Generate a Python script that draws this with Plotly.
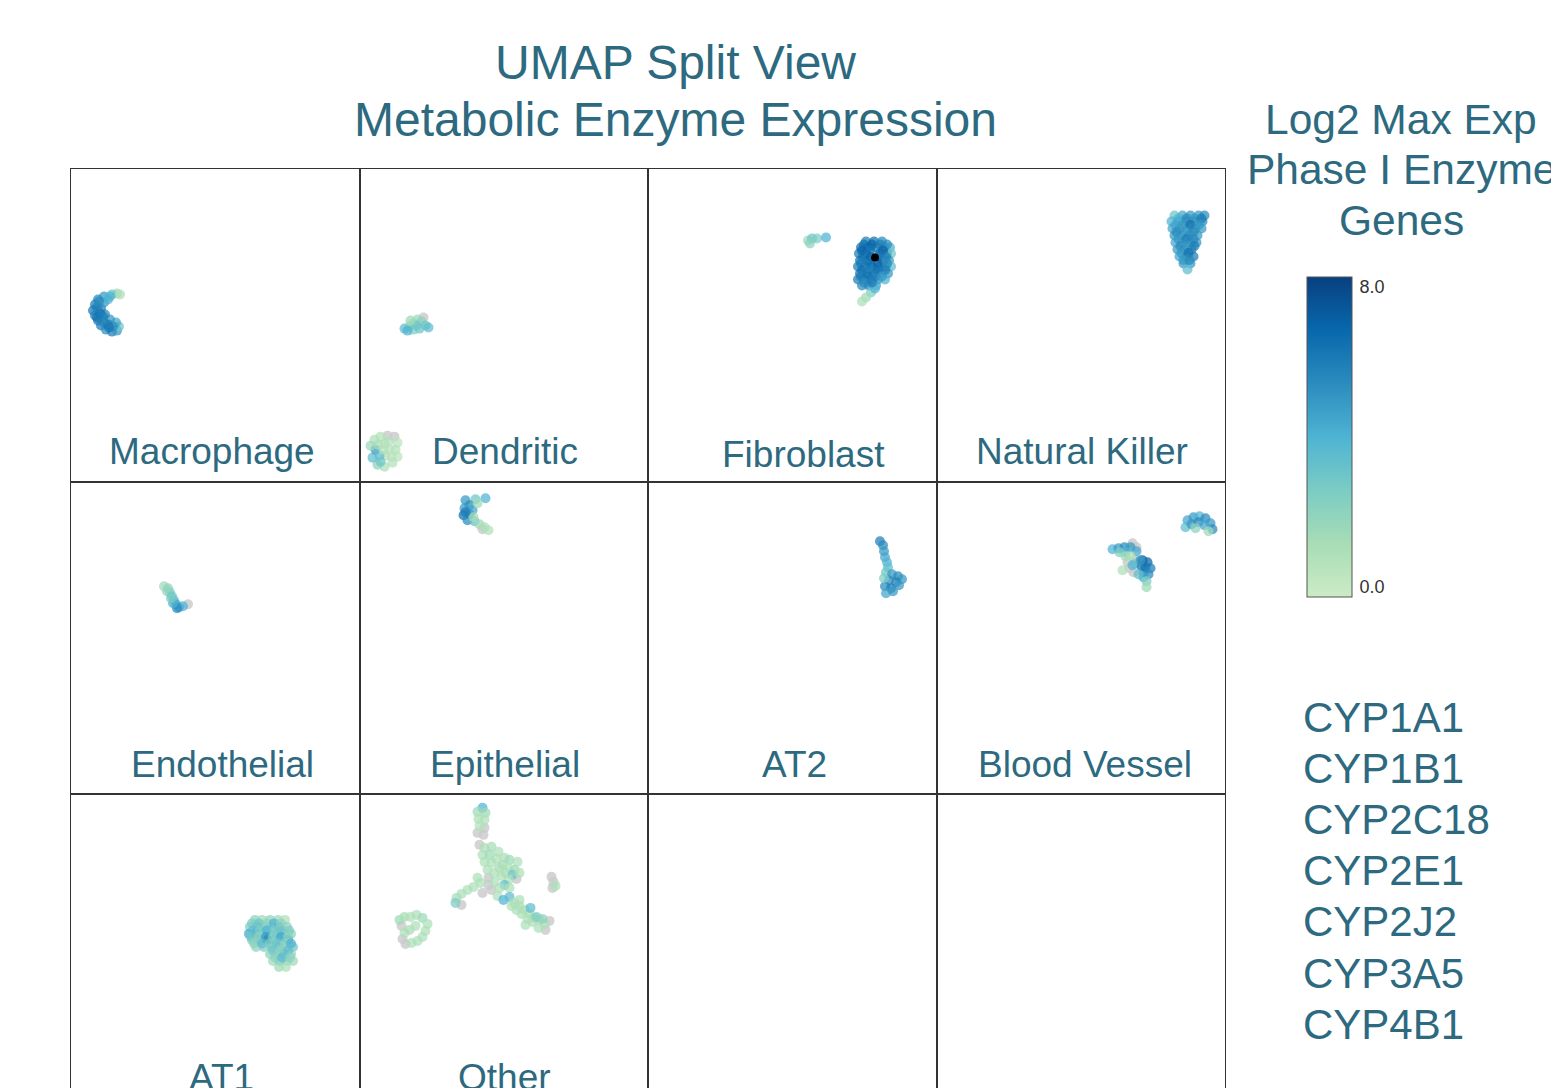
import plotly.graph_objects as go
from plotly.subplots import make_subplots

# ---------------- data (UMAP coordinates and log2 max expression) ----------------
cell_types = ["Macrophage", "Dendritic", "Fibroblast", "Natural Killer",
              "Endothelial", "Epithelial", "AT2", "Blood Vessel",
              "AT1", "Other"]

genes = ["CYP1A1", "CYP1B1", "CYP2C18", "CYP2E1", "CYP2J2", "CYP3A5", "CYP4B1"]

colorbar_ticks = [0, 8]
colorbar_ticktext = ["0.0", "8.0"]

macrophage_x = [-0.4, -0.9, -1.7, -2.3, -2.6, -2.8, -2.6, -2.3, -2.0, -1.5, -0.9, -0.4,
                -0.2, -0.5, -1.1, -1.6, -2.0, -1.7, -1.3, -2.1, -1.3, -0.8, -0.1, -2.4,
                -2.4, -1.8, -1.7, -1.2, -2.2, -1.1]
macrophage_y = [13.8, 13.7, 13.5, 13.2, 12.7, 12.1, 11.6, 11.1, 10.6, 10.2, 10.0, 10.1,
                10.5, 10.9, 11.2, 11.7, 12.3, 12.9, 13.2, 11.8, 10.7, 10.5, 13.7, 11.4,
                12.4, 11.5, 10.9, 10.4, 13.0, 13.5]
macrophage_v = [1.5, 3.0, 5.0, 5.5, 6.0, 6.2, 5.8, 6.0, 6.0, 5.5, 6.0, 5.0,
                3.0, 4.5, 5.0, 5.5, 6.0, 5.0, 4.0, 6.5, 6.2, 5.5, 1.0, 6.3,
                6.0, 6.0, 5.8, 6.2, 5.5, 4.0]

dendritic_x = [-0.5, 0.0, 0.4, 0.8, 1.2, 1.6, 1.9, 1.0, 0.4, -0.2, 1.4, 0.7, 0.1,
               -3.5, -2.9, -2.2, -1.5, -1.2, -1.4, -1.2, -1.7, -2.5, -3.2, -3.7, -3.4,
               -3.1, -2.5, -2.0, -2.4, -3.0, -2.9, -2.6, -3.9, -2.1, -1.8]
dendritic_y = [10.3, 10.5, 10.8, 11.2, 11.0, 10.6, 10.4, 10.3, 10.2, 10.1, 11.4, 10.6, 11.1,
               -0.8, -0.5, -0.4, -0.5, -1.1, -1.8, -2.5, -3.1, -3.5, -3.3, -2.6, -1.8,
               -1.3, -1.2, -1.8, -2.4, -2.4, -3.0, -1.8, -1.4, -1.0, -2.5]
dendritic_v = [3.5, 2.5, 2.0, 1.5, 2.0, 3.0, 3.5, 3.0, 2.5, 4.0, 0.0, 3.0, 1.5,
               1.0, 0.8, 0.0, 0.0, 0.5, 0.8, 0.5, 0.8, 1.0, 2.0, 3.5, 5.0,
               1.0, 0.8, 0.6, 0.8, 3.5, 3.0, 0.8, 1.5, 0.7, 0.6]

fibroblast_x = [11.0, 11.4, 11.9, 12.8, 11.2,
                16.8, 17.6, 18.4,
                16.3, 17.0, 17.8, 18.6, 19.2,
                16.1, 16.8, 18.2, 18.9, 19.3,
                16.2, 17.0, 18.5, 19.1,
                16.0, 16.7, 17.4, 18.1, 18.8, 19.3,
                16.2, 16.9, 17.6, 18.3, 19.0,
                16.0, 16.6, 17.3, 18.0, 18.7,
                16.4, 17.1, 17.8,
                17.3, 16.8, 16.4, 17.7,
                16.6, 17.4, 18.2, 18.9,
                16.4, 17.2, 18.5,
                16.5, 17.3, 18.0, 18.8,
                16.3, 17.2, 18.0, 18.9,
                16.4, 17.2, 18.0, 18.7,
                16.3, 17.0, 17.7, 18.4,
                16.6, 17.4]
fibroblast_y = [19.1, 19.3, 19.3, 19.4, 18.8,
                19.0, 19.0, 19.0,
                18.4, 18.4, 18.4, 18.4, 18.4,
                17.8, 17.8, 17.8, 17.8, 17.8,
                17.1, 17.1, 17.1, 17.1,
                16.5, 16.5, 16.5, 16.5, 16.5, 16.5,
                15.8, 15.8, 15.8, 15.8, 15.8,
                15.2, 15.2, 15.2, 15.2, 15.2,
                14.6, 14.6, 14.6,
                13.9, 13.4, 13.0, 14.3,
                18.7, 18.7, 18.7, 18.7,
                18.1, 18.1, 18.1,
                17.45, 17.45, 17.45, 17.45,
                16.8, 16.8, 16.8, 16.8,
                16.15, 16.15, 16.15, 16.15,
                15.5, 15.5, 15.5, 15.5,
                14.9, 14.9]
fibroblast_v = [1.5, 3.0, 2.5, 4.0, 2.0,
                6.0, 6.5, 5.5,
                6.5, 7.0, 6.5, 6.0, 4.0,
                6.0, 7.0, 6.5, 6.0, 3.0,
                6.5, 6.5, 6.0, 5.0,
                6.0, 6.5, 7.0, 6.5, 6.0, 3.5,
                6.5, 6.0, 6.5, 6.0, 5.0,
                6.0, 6.5, 6.0, 5.5, 4.0,
                5.5, 6.0, 4.5,
                2.5, 1.5, 1.0, 4.0,
                6.5, 7.0, 6.0, 5.5,
                7.0, 6.5, 7.0,
                6.5, 7.0, 6.5, 6.0,
                6.0, 6.5, 7.0, 5.5,
                6.5, 6.0, 6.5, 6.0,
                6.0, 6.5, 6.0, 5.0,
                5.5, 6.0]
fibroblast_peak_x = [17.7]
fibroblast_peak_y = [17.4]

nk_x = [18.8, 19.6, 20.4, 21.2, 21.8,
        18.5, 19.2, 20.0, 20.8, 21.6,
        18.6, 19.3, 20.1, 20.9, 21.5,
        18.8, 19.5, 20.3, 21.1,
        18.9, 19.6, 20.4, 21.0,
        19.1, 19.8, 20.5,
        19.3, 20.0, 20.7,
        19.7, 20.4,
        20.1,
        19.2, 20.0, 20.8, 21.5,
        18.9, 19.6, 20.4, 21.2,
        19.0, 19.9, 20.7,
        19.2, 20.0, 20.7,
        19.4, 20.1, 20.8,
        19.5, 20.2,
        19.7, 20.3]
nk_y = [21.6, 21.6, 21.6, 21.6, 21.6,
        21.0, 21.0, 21.0, 21.0, 21.0,
        20.3, 20.3, 20.3, 20.3, 20.3,
        19.6, 19.6, 19.6, 19.6,
        18.9, 18.9, 18.9, 18.9,
        18.2, 18.2, 18.2,
        17.5, 17.5, 17.5,
        16.8, 16.8,
        16.2,
        21.3, 21.3, 21.3, 21.3,
        20.65, 20.65, 20.65, 20.65,
        19.95, 19.95, 19.95,
        19.25, 19.25, 19.25,
        18.55, 18.55, 18.55,
        17.85, 17.85,
        17.15, 17.15]
nk_v = [3.0, 4.5, 5.0, 5.0, 5.5,
        4.0, 5.0, 5.5, 6.0, 5.5,
        4.5, 5.5, 5.0, 5.5, 5.0,
        5.0, 5.5, 6.0, 5.0,
        4.5, 5.0, 5.5, 5.0,
        5.0, 5.5, 6.0,
        4.5, 5.5, 6.0,
        5.0, 5.0,
        3.5,
        4.0, 5.5, 5.0, 6.0,
        4.5, 5.0, 6.5, 5.0,
        5.5, 5.0, 5.5,
        5.0, 6.0, 5.5,
        5.5, 5.0, 6.0,
        5.0, 6.5,
        5.0, 5.5]

endothelial_x = [4.3, 4.7, 4.9, 4.6, 5.1, 5.3, 5.5, 5.8, 6.2, 5.6, 6.7, 5.2, 5.0]
endothelial_y = [15.8, 15.6, 15.2, 15.3, 14.8, 14.4, 14.0, 13.7, 13.8, 13.6, 14.0, 14.1, 14.6]
endothelial_v = [1.5, 2.0, 2.5, 1.8, 3.0, 3.5, 4.5, 5.0, 4.0, 5.5, 0.0, 4.0, 2.5]

epithelial_x = [5.6, 6.6, 7.6, 6.0, 5.5, 5.4, 6.0, 6.3, 5.8, 6.5, 7.0, 7.5, 7.9, 6.8, 6.4, 7.3, 5.6]
epithelial_y = [24.4, 24.5, 24.6, 23.9, 23.6, 22.9, 23.0, 23.4, 22.4, 22.3, 22.0, 21.7, 21.4, 24.1, 22.7, 21.5, 23.2]
epithelial_v = [5.0, 3.0, 4.0, 5.5, 5.0, 6.5, 6.0, 4.5, 5.5, 3.5, 1.5, 1.0, 0.8, 1.5, 1.2, 0.0, 6.0]

at2_x = [18.2, 18.5, 18.6, 18.7, 18.9, 19.0, 18.8, 19.4, 20.0, 20.4, 19.8, 19.1, 18.7, 19.3, 18.8, 19.5, 20.1, 18.6]
at2_y = [20.3, 19.9, 19.3, 18.7, 18.2, 17.7, 17.2, 17.0, 16.8, 16.5, 16.2, 16.4, 15.8, 15.6, 15.1, 15.3, 15.9, 16.6]
at2_v = [6.0, 5.5, 5.0, 4.5, 4.0, 3.5, 3.0, 5.0, 5.5, 5.0, 6.0, 5.5, 5.5, 6.0, 4.5, 5.0, 5.0, 2.5]

blood_vessel_x = [20.1, 20.7, 21.3, 21.9, 22.4, 22.6, 19.9, 20.5, 21.2, 21.8, 20.9, 22.2,
                  14.6, 15.0, 14.8, 14.3, 14.7, 14.1,
                  12.6, 13.2, 13.8, 14.4, 15.0, 13.9, 13.3,
                  13.9, 14.4, 13.6, 14.9,
                  15.6, 16.1, 15.9, 16.4, 15.5, 15.7, 16.2, 15.7, 15.2, 15.4, 14.6,
                  16.0, 16.0]
blood_vessel_y = [22.4, 22.7, 22.8, 22.6, 22.1, 21.5, 21.7, 22.0, 22.2, 21.9, 21.6, 21.3,
                  20.1, 19.7, 18.4, 17.6, 17.2, 18.2,
                  19.5, 19.6, 19.7, 19.7, 19.3, 19.2, 19.2,
                  18.8, 18.8, 17.4, 18.1,
                  18.4, 18.2, 17.7, 17.6, 17.8, 17.2, 17.0, 16.7, 17.0, 18.4, 17.9,
                  16.3, 15.7]
blood_vessel_v = [4.5, 5.0, 4.0, 5.5, 5.0, 5.5, 3.5, 5.0, 5.5, 4.5, 2.0, 1.5,
                  0.0, 0.0, 0.0, 0.0, 0.0, 0.0,
                  4.0, 5.0, 5.5, 5.0, 4.5, 4.0, 2.5,
                  1.5, 1.0, 1.0, 2.0,
                  7.5, 7.0, 6.5, 6.0, 6.5, 6.0, 5.5, 4.5, 3.5, 5.0, 4.0,
                  2.5, 1.5]

at1_x = [13.4, 14.1, 14.9, 15.7, 16.4,
         12.9, 13.6, 14.3, 15.0, 15.8, 16.6,
         12.8, 13.5, 14.2, 14.9, 15.6, 16.3, 17.0,
         13.1, 13.9, 14.6, 15.3, 16.0, 16.7,
         13.5, 14.3, 15.1, 15.8, 16.5, 17.2,
         14.9, 15.6, 16.3, 17.0,
         15.2, 15.9, 16.6, 17.2,
         15.8, 16.5,
         13.1, 13.8, 14.6, 15.3, 16.0,
         13.2, 13.9, 14.6, 15.4, 16.0, 16.8,
         13.0, 13.8, 14.5, 15.2, 16.0, 16.7,
         13.3, 14.1, 14.9, 15.6, 16.4, 17.0,
         15.2, 15.9, 16.7,
         15.4, 16.1, 16.9]
at1_y = [13.7, 13.7, 13.7, 13.7, 13.7,
         13.0, 13.0, 13.0, 13.0, 13.0, 13.0,
         12.3, 12.3, 12.3, 12.3, 12.3, 12.3, 12.3,
         11.7, 11.7, 11.7, 11.7, 11.7, 11.7,
         11.0, 11.0, 11.0, 11.0, 11.0, 11.0,
         10.3, 10.3, 10.3, 10.3,
         9.6, 9.6, 9.6, 9.6,
         9.0, 9.0,
         13.35, 13.35, 13.35, 13.35, 13.35,
         12.65, 12.65, 12.65, 12.65, 12.65, 12.65,
         12.0, 12.0, 12.0, 12.0, 12.0, 12.0,
         11.35, 11.35, 11.35, 11.35, 11.35, 11.35,
         10.65, 10.65, 10.65,
         9.95, 9.95, 9.95]
at1_v = [2.0, 1.5, 2.0, 1.5, 1.0,
         2.5, 4.0, 3.0, 2.5, 4.5, 2.0,
         4.5, 5.0, 3.0, 2.5, 4.0, 3.5, 2.0,
         2.5, 4.0, 7.0, 3.0, 2.5, 5.0,
         2.0, 2.5, 3.0, 4.0, 2.5, 3.0,
         2.0, 2.5, 4.0, 2.0,
         1.5, 3.0, 2.5, 1.5,
         1.5, 1.0,
         2.5, 3.0, 2.0, 4.0, 2.0,
         3.5, 2.5, 4.0, 2.5, 3.0, 2.5,
         3.0, 2.0, 5.0, 2.5, 4.5, 2.0,
         2.0, 3.5, 2.5, 3.0, 2.0, 4.0,
         3.0, 2.0, 3.5,
         2.0, 3.5, 2.0]

other_x = [7.3, 6.8, 7.6, 6.9, 7.5, 7.0, 7.5, 6.8, 7.4,
           7.5, 8.2, 8.9, 9.5, 10.0, 10.8, 7.3, 8.0, 8.7, 9.3, 9.9, 10.5,
           7.5, 8.2, 9.0, 9.6, 10.3, 11.0, 7.8, 8.5, 9.2, 9.9, 9.5, 8.5,
           7.9, 9.0, 10.0, 10.7, 8.2, 8.8, 9.4, 10.0, 7.9, 7.0,
           7.1, 6.4, 5.8, 5.2, 4.7, 4.6, 5.2, 6.8, 7.3,
           10.5, 11.0, 11.5, 12.0, 12.5, 13.0, 13.5, 12.3, 11.8, 11.2, 10.7,
           12.1, 12.7, 13.3, 12.9, 13.6, 11.0, 10.2, 11.6, 14.0,
           14.2, 14.4, 14.6, 14.3,
           -1.0, -0.5, 0.1, 0.7, 1.3, 1.8, 1.6, 1.3, 0.8, 0.2, -0.4, -0.7,
           -0.5, 0.0, 0.6, -0.8]
other_y = [24.9, 24.5, 24.4, 23.8, 23.7, 23.1, 22.9, 22.4, 22.2,
           20.9, 21.0, 20.5, 19.9, 19.7, 19.5, 20.2, 20.2, 19.8, 19.2, 18.9, 18.7,
           19.5, 19.4, 18.9, 18.4, 18.2, 18.4, 18.7, 18.4, 18.1, 17.7, 17.2, 17.5,
           17.9, 16.9, 16.9, 17.8, 16.7, 16.1, 15.7, 16.0, 17.2, 21.2,
           17.4, 17.0, 16.7, 16.3, 15.9, 15.4, 15.2, 17.9, 16.4,
           15.4, 15.1, 14.7, 14.3, 13.9, 13.7, 13.3, 13.5, 13.8, 14.3, 14.7,
           14.9, 14.0, 13.8, 12.9, 12.7, 15.7, 15.1, 13.2, 13.6,
           18.0, 17.5, 17.1, 16.9,
           13.7, 14.0, 14.0, 14.2, 13.9, 13.3, 12.6, 12.0, 11.6, 11.4, 11.3, 11.8,
           12.4, 12.7, 13.1, 13.1]
other_v = [4.0, 1.5, 1.5, 1.0, 1.0, 0.8, 0.0, 0.0, 0.0,
           1.0, 1.2, 1.0, 1.0, 1.5, 1.0, 1.0, 1.5, 1.0, 1.2, 1.0, 1.5,
           1.0, 1.0, 1.2, 1.0, 3.0, 1.0, 1.0, 1.0, 1.0, 1.0, 3.5, 1.0,
           0.0, 1.0, 1.0, 0.0, 0.0, 1.0, 4.0, 3.5, 0.0, 0.0,
           1.0, 1.0, 1.0, 1.0, 1.2, 2.5, 0.0, 1.0, 0.0,
           1.0, 1.0, 1.2, 1.0, 1.5, 1.2, 1.0, 1.0, 1.0, 1.0, 1.0,
           3.5, 2.5, 2.0, 1.0, 0.0, 1.0, 1.0, 1.0, 0.0,
           0.0, 0.0, 1.0, 0.0,
           1.5, 1.2, 1.0, 1.0, 1.5, 1.0, 1.0, 1.0, 1.0, 1.0, 0.0, 0.0,
           1.0, 1.2, 1.0, 0.0]

# ---------------- styling ----------------
TEXT_COLOR = "#2d6a7f"
FONT = "Liberation Sans, Arial, sans-serif"
GNBU = [[0.0, "rgb(204,235,197)"], [1 / 6, "rgb(168,221,181)"],
        [2 / 6, "rgb(123,204,196)"], [3 / 6, "rgb(78,179,211)"],
        [4 / 6, "rgb(43,140,190)"], [5 / 6, "rgb(8,104,172)"],
        [1.0, "rgb(8,64,129)"]]
CMIN, CMAX = -0.27, 8.27
X_RANGE = [-5, 23.85]
Y_RANGE = [-5, 26.25]

W, H = 1551, 1150
ML, MR, MT, MB = 71, 326, 169, 43
PW, PH = W - ML - MR, H - MT - MB


def px_x(px):
    return (px - ML) / PW


def px_y(py):
    return (H - MB - py) / PH


panel_data = [
    (macrophage_x, macrophage_y, macrophage_v),
    (dendritic_x, dendritic_y, dendritic_v),
    (fibroblast_x, fibroblast_y, fibroblast_v),
    (nk_x, nk_y, nk_v),
    (endothelial_x, endothelial_y, endothelial_v),
    (epithelial_x, epithelial_y, epithelial_v),
    (at2_x, at2_y, at2_v),
    (blood_vessel_x, blood_vessel_y, blood_vessel_v),
    (at1_x, at1_y, at1_v),
    (other_x, other_y, other_v),
]

fig = make_subplots(rows=3, cols=4, horizontal_spacing=0, vertical_spacing=0)

MSIZE = 10
for i, (xs, ys, vs) in enumerate(panel_data):
    r, c = i // 4 + 1, i % 4 + 1
    gx = [x for x, v in zip(xs, vs) if v == 0]
    gy = [y for y, v in zip(ys, vs) if v == 0]
    cx = [x for x, v in zip(xs, vs) if v > 0]
    cy = [y for y, v in zip(ys, vs) if v > 0]
    cv = [v for v in vs if v > 0]
    if gx:
        fig.add_trace(go.Scatter(x=gx, y=gy, mode="markers", showlegend=False,
                                 hoverinfo="skip",
                                 marker=dict(size=MSIZE, color="#c9c9c9", opacity=0.8)),
                      row=r, col=c)
    fig.add_trace(go.Scatter(
        x=cx, y=cy, mode="markers", showlegend=False, name=cell_types[i],
        marker=dict(size=MSIZE, color=cv, colorscale=GNBU, cmin=CMIN, cmax=CMAX,
                    opacity=0.72, line=dict(width=0),
                    showscale=(i == 0),
                    colorbar=dict(
                        xref="paper", yref="paper",
                        x=px_x(1307), xanchor="left", xpad=0,
                        y=px_y(277), yanchor="top", ypad=0,
                        lenmode="pixels", len=320, thickness=45,
                        outlinewidth=1, outlinecolor="#555",
                        tickvals=colorbar_ticks, ticktext=colorbar_ticktext,
                        ticks="outside", ticklen=4, tickcolor="rgba(0,0,0,0)",
                        tickfont=dict(size=18, color="#333", family=FONT),
                    ))),
        row=r, col=c)
    if i == 2:
        fig.add_trace(go.Scatter(x=fibroblast_peak_x, y=fibroblast_peak_y,
                                 mode="markers", showlegend=False,
                                 marker=dict(size=8, color="black")),
                      row=r, col=c)

# empty panels still get their frame
for k in range(len(panel_data), 12):
    r, c = k // 4 + 1, k % 4 + 1
    fig.add_trace(go.Scatter(x=[None], y=[None], mode="markers", showlegend=False,
                             hoverinfo="skip"), row=r, col=c)

for k in range(12):
    r, c = k // 4 + 1, k % 4 + 1
    fig.update_xaxes(range=X_RANGE, showticklabels=False, ticks="", showgrid=False,
                     zeroline=False, showline=True, mirror=True, linecolor="#333",
                     linewidth=1.2, row=r, col=c)
    fig.update_yaxes(range=Y_RANGE, showticklabels=False, ticks="", showgrid=False,
                     zeroline=False, showline=True, mirror=True, linecolor="#333",
                     linewidth=1.2, row=r, col=c)

annotations = []
label_dx = [-3, 1, 11, 1, 7, 1, 2, 4, 6, 1]
label_dy = [0, 0, 3, 0, 0, 0, 0, 0, 0, 0]
for i, name in enumerate(cell_types):
    axn = "" if i == 0 else str(i + 1)
    annotations.append(dict(text=name, xref=f"x{axn} domain", yref=f"y{axn} domain",
                            x=0.5, y=30 / 312.67, xanchor="center", yanchor="middle",
                            xshift=label_dx[i], yshift=-label_dy[i], showarrow=False,
                            font=dict(size=37, color=TEXT_COLOR, family=FONT)))

for line, py in zip(["UMAP Split View", "Metabolic Enzyme Expression"], [63, 120]):
    annotations.append(dict(text=line, xref="paper", yref="paper", x=px_x(675),
                            y=px_y(py), xanchor="center", yanchor="middle",
                            showarrow=False,
                            font=dict(size=48, color=TEXT_COLOR, family=FONT)))

for line, py in zip(["Log2 Max Exp", "Phase I Enzyme", "Genes"], [119, 170, 221]):
    annotations.append(dict(text=line, xref="paper", yref="paper", x=px_x(1401),
                            y=px_y(py), xanchor="center", yanchor="middle",
                            showarrow=False,
                            font=dict(size=42.5, color=TEXT_COLOR, family=FONT)))

for j, g in enumerate(genes):
    annotations.append(dict(text=g, xref="paper", yref="paper", x=px_x(1301),
                            y=px_y(717 + 51.2 * j), xanchor="left", yanchor="middle",
                            showarrow=False,
                            font=dict(size=42, color=TEXT_COLOR, family=FONT)))

fig.update_layout(
    width=W, height=H,
    margin=dict(l=ML, r=MR, t=MT, b=MB),
    paper_bgcolor="white", plot_bgcolor="white",
    font=dict(family=FONT),
    annotations=annotations,
    showlegend=False,
)

fig.write_html("out.html")
